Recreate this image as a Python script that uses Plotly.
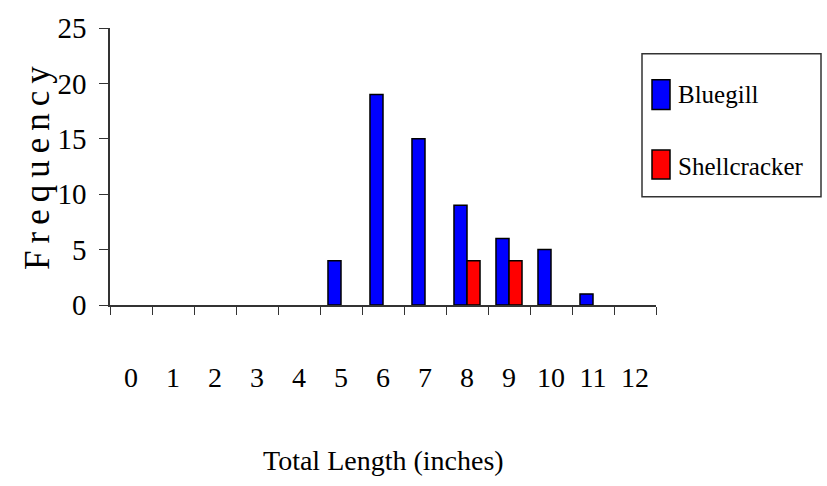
import plotly.graph_objects as go

categories = [str(i) for i in range(13)]
bluegill = [None, None, None, None, None, 4, 19, 15, 9, 6, 5, 1, None]
shellcracker = [None, None, None, None, None, None, None, None, 4, 4, None, None, None]
series_names = ["Bluegill", "Shellcracker"]
series_colors = ["#0000FF", "#FF0000"]

FONT = "Liberation Serif"

fig = go.Figure()
for name, vals, col in zip(series_names, [bluegill, shellcracker], series_colors):
    fig.add_trace(go.Bar(
        x=categories, y=vals, name=name,
        marker=dict(color=col, line=dict(color="black", width=1.5)),
        showlegend=False,
    ))

fig.update_layout(
    width=827, height=486,
    margin=dict(l=110, r=171, t=26, b=181),
    paper_bgcolor="white", plot_bgcolor="white",
    barmode="group", bargap=0.38, bargroupgap=0,
    font=dict(family=FONT, color="black"),
)
fig.update_xaxes(
    type="category", tickson="boundaries", ticks="outside", ticklen=8,
    tickcolor="#333", showline=True, linecolor="#333", linewidth=1.5,
    showgrid=False, tickfont=dict(size=28, family=FONT),
    ticklabelstandoff=47,
)
fig.update_yaxes(
    range=[0, 25], dtick=5, ticks="outside", ticklen=9, tickcolor="#333",
    showline=True, linecolor="#333", linewidth=1.5, showgrid=False,
    zeroline=False, tickfont=dict(size=29, family=FONT), ticklabelstandoff=7,
)

pw = 827 - 110 - 171
ph = 486 - 26 - 181
def px(x):
    return (x - 110) / pw
def py(y):
    return (305 - y) / ph

# axis titles
fig.add_annotation(text="Total Length (inches)", xref="paper", yref="paper",
                   x=0.5, y=py(462), showarrow=False, yanchor="middle",
                   font=dict(size=28, family=FONT))
fig.add_annotation(text="\u2009".join("Frequency"), xref="paper", yref="paper",
                   x=px(38), y=py(167), showarrow=False, textangle=-90,
                   xanchor="center", yanchor="middle",
                   font=dict(size=35, family=FONT))

# legend box (drawn as decoration)
fig.add_shape(type="rect", xref="paper", yref="paper",
              x0=px(642), x1=px(821), y0=py(196), y1=py(52),
              line=dict(color="#333", width=1.5), fillcolor="white")
legend_rows = [(78, 108, 93), (149, 178, 165)]
for (top, bot, cy), name, col in zip(legend_rows, series_names, series_colors):
    fig.add_shape(type="rect", xref="paper", yref="paper",
                  x0=px(652), x1=px(670), y0=py(bot), y1=py(top),
                  line=dict(color="black", width=1.5), fillcolor=col)
    fig.add_annotation(text=name, xref="paper", yref="paper",
                       x=px(676), y=py(cy), xanchor="left", yanchor="middle",
                       showarrow=False, font=dict(size=25, family=FONT))

fig.write_html("out.html", config={"displayModeBar": False},
               post_script="document.body.style.margin='0';")
